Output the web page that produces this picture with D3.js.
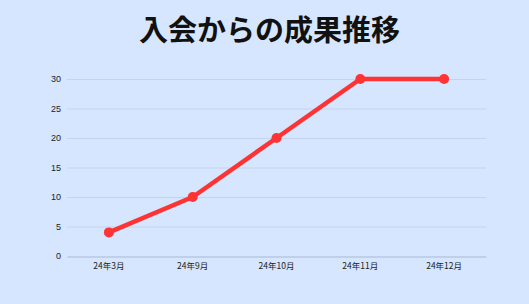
<!DOCTYPE html>
<html>
<head>
<meta charset="utf-8">
<script src="https://cdn.jsdelivr.net/npm/d3@7"></script>
<style>
body { margin: 0; background: #d6e6ff; }
text { font-family: "Noto Sans CJK JP", "Noto Sans", sans-serif; }
</style>
</head>
<body>
<script>
// data
const months = ['24年3月', '24年9月', '24年10月', '24年11月', '24年12月'];
const values = [4, 10, 20, 30, 30];
const yTicks = [0, 5, 10, 15, 20, 25, 30];

let frame = { width: 529, height: 304 };
let padding = { left: 67, top: 79, right: 43, bottom: 48 };

let svg = d3.select('body')
	.append('svg')
	.attr('width', frame.width)
	.attr('height', frame.height);

svg.append('rect')
	.attr('width', frame.width)
	.attr('height', frame.height)
	.attr('fill', '#d6e6ff');

// title
svg.append('text')
	.attr('x', frame.width / 2 + 5)
	.attr('y', 41)
	.attr('text-anchor', 'middle')
	.attr('font-size', 29)
	.attr('font-weight', 'bold')
	.attr('fill', '#111')
	.text('入会からの成果推移');

let xScale = d3.scaleBand()
	.domain(months)
	.range([padding.left, frame.width - padding.right]);

let yScale = d3.scaleLinear()
	.domain([0, 30])
	.range([frame.height - padding.bottom, padding.top]);

// gridlines
svg.append('g')
	.selectAll('line')
	.data(yTicks.filter(d => d > 0))
	.enter()
	.append('line')
	.attr('x1', padding.left)
	.attr('x2', frame.width - padding.right)
	.attr('y1', d => yScale(d) + 0.5)
	.attr('y2', d => yScale(d) + 0.5)
	.attr('stroke', '#c4d4ec')
	.attr('stroke-width', 1);

// y axis
let yAxis = d3.axisLeft(yScale).tickValues(yTicks).tickSize(0).tickPadding(6);
let gy = svg.append('g')
	.attr('transform', `translate(${padding.left}, 0)`)
	.call(yAxis);
gy.select('.domain').remove();
gy.selectAll('text').attr('font-size', 9).attr('fill', '#222')
	.style('font-family', '"Liberation Sans", Arial, sans-serif');

// x axis
let xAxis = d3.axisBottom(xScale).tickSize(0).tickPadding(6);
let gx = svg.append('g')
	.attr('transform', `translate(0, ${frame.height - padding.bottom + 0.5})`)
	.call(xAxis);
gx.select('.domain').attr('stroke', '#a9b9d2');
gx.selectAll('text').attr('font-size', 8.5).attr('fill', '#222');

// line
let cx = d => xScale(d) + xScale.bandwidth() / 2;
let line = d3.line()
	.x((d, i) => cx(months[i]))
	.y(d => yScale(d));

svg.append('path')
	.datum(values)
	.attr('fill', 'none')
	.attr('stroke', '#ff3333')
	.attr('stroke-width', 4.5)
	.attr('stroke-linejoin', 'round')
	.attr('d', line);

svg.selectAll('.dot')
	.data(values)
	.enter()
	.append('circle')
	.attr('class', 'dot')
	.attr('cx', (d, i) => cx(months[i]))
	.attr('cy', d => yScale(d))
	.attr('r', 5)
	.attr('fill', '#ff3333');
</script>
</body>
</html>
